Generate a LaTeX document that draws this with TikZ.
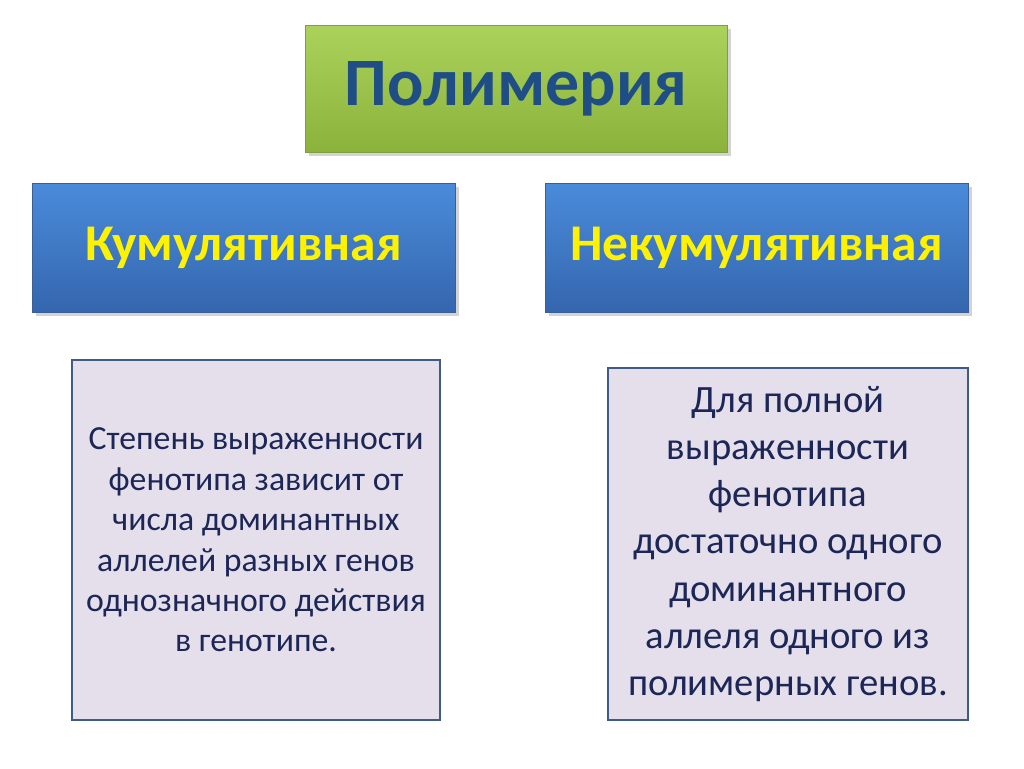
\documentclass[tikz,border=0pt]{standalone}
\usepackage{fontspec}
\setmainfont{Carlito}
\usetikzlibrary{shadows}

\definecolor{titleblue}{HTML}{1F4E86}
\definecolor{textnavy}{HTML}{1C2757}
\definecolor{lavender}{HTML}{E5DFEB}
\definecolor{boxline}{HTML}{3E5B8C}
\definecolor{greentop}{HTML}{ABD25A}
\definecolor{greenbot}{HTML}{8BB23B}
\definecolor{greenline}{HTML}{7E9E45}
\definecolor{bluetop}{HTML}{4A8BDA}
\definecolor{bluebot}{HTML}{3466AE}
\definecolor{blueline}{HTML}{3B5F93}

\begin{document}
\begin{tikzpicture}[x=0.02cm,y=-0.02cm]
  \tikzset{head/.style = {draw=greenline,top color=greentop,bottom color=greenbot,
      minimum width=8.44cm,minimum height=2.54cm,drop shadow={opacity=0.35},font=\fontsize{38.6}{46}\selectfont\bfseries,text=titleblue}}
  \tikzset{kind/.style = {draw=blueline,top color=bluetop,bottom color=bluebot,
      minimum width=8.46cm,minimum height=2.58cm,drop shadow={opacity=0.35},font=\fontsize{29.3}{34}\selectfont\bfseries,text=yellow}}
  \tikzset{info/.style = {draw=boxline,line width=1.2pt,fill=lavender,align=center,text=textnavy}}

  \useasboundingbox (0,0) rectangle (1024,768);

	\node[head] (P) at (516,88.5) {Полимерия};
	\node[kind] (K) at (243.5,247.5) {Кумулятивная};
	\node[kind] (N) at (756.5,247.5) {Некумулятивная};

	\node[info,minimum width=7.36cm,minimum height=7.2cm,font=\fontsize{19.2}{23}\selectfont] (KT) at (256,540)
	  {Степень выраженности\\фенотипа зависит от\\числа доминантных\\аллелей разных генов\\однозначного действия\\в генотипе.};
	\node[info,minimum width=7.2cm,minimum height=7.04cm,font=\fontsize{22}{26.9}\selectfont] (NT) at (788,544)
	  {Для полной\\выраженности\\фенотипа\\достаточно одного\\доминантного\\аллеля одного из\\полимерных генов.};
\end{tikzpicture}
\end{document}
